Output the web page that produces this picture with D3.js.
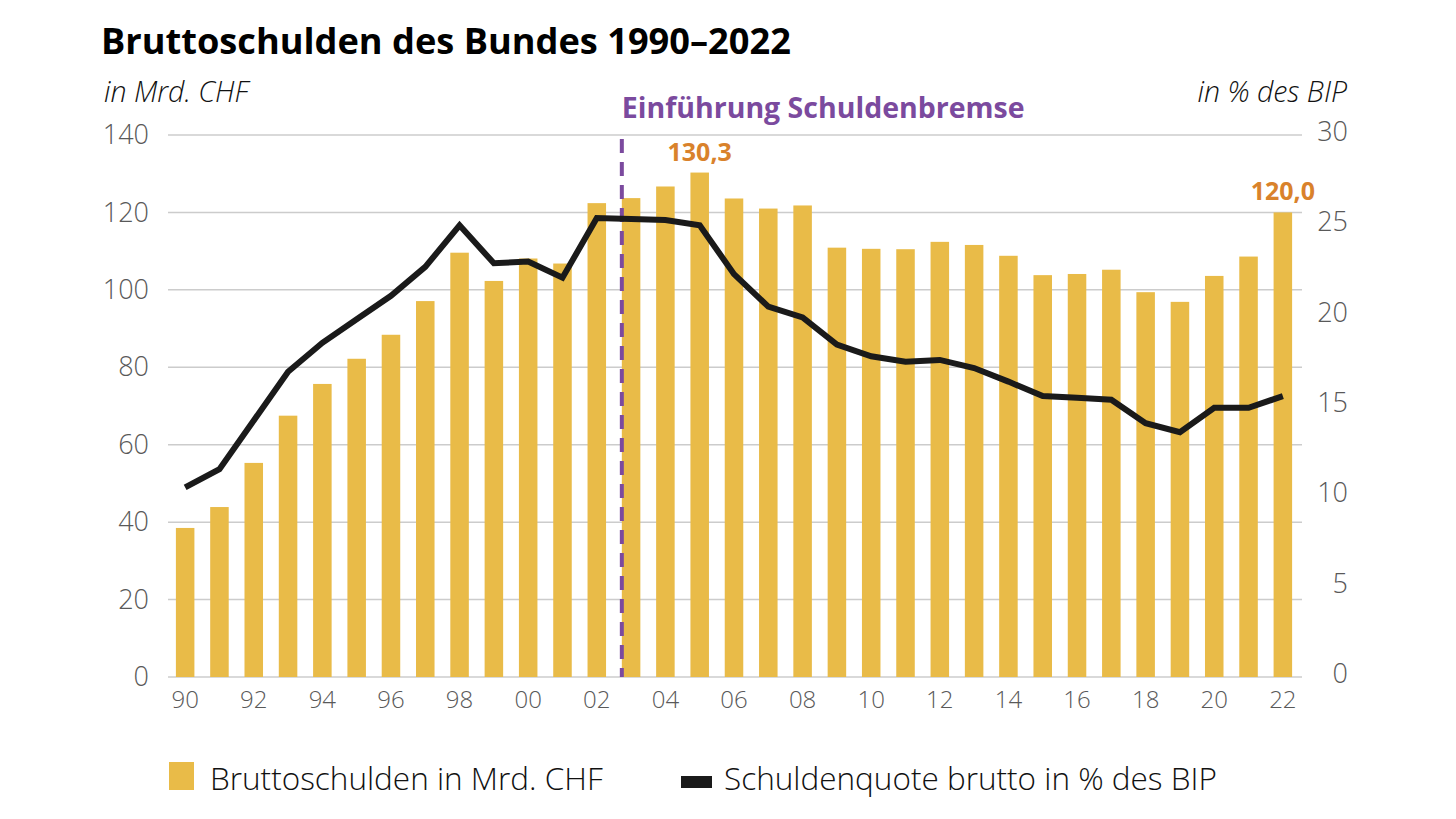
<!DOCTYPE html>
<meta charset="utf-8">
<style>
  body { margin: 0; background: #fff; }
  text { font-family: "Open Sans", "Noto Sans", sans-serif; }
</style>
<body>
<script src="https://cdn.jsdelivr.net/npm/d3@7"></script>
<script>

// data: years 1990-2022
var years = d3.range(1990, 2023);
var debt = [38.5, 43.9, 55.3, 67.5, 75.7, 82.2, 88.4, 97.1, 109.6, 102.3,
            108.1, 106.8, 122.4, 123.7, 126.7, 130.3, 123.6, 121.0, 121.8, 110.9,
            110.6, 110.5, 112.4, 111.6, 108.8, 103.8, 104.1, 105.2, 99.4, 96.9,
            103.6, 108.6, 120.0];
var ratio = [10.5, 11.5, 14.2, 16.9, 18.5, 19.8, 21.1, 22.7, 25.0, 22.9,
             23.0, 22.1, 25.4, 25.35, 25.3, 25.0, 22.3, 20.5, 19.9, 18.4,
             17.75, 17.45, 17.55, 17.1, 16.35, 15.55, 15.45, 15.35, 14.05, 13.55,
             14.9, 14.9, 15.55];
var leftTicks = [0, 20, 40, 60, 80, 100, 120, 140];
var rightTicks = [0, 5, 10, 15, 20, 25, 30];
var labelled = [2005, 2022];

var width = 1456, height = 819;
var margin = { top: 135, right: 156, bottom: 142, left: 168 };

var svg = d3.select("body").append("svg")
    .attr("width", width)
    .attr("height", height);

var x = d3.scaleBand()
    .domain(years)
    .range([margin.left, width - margin.right])
    .paddingInner(0.46)
    .paddingOuter(0.23);

var y = d3.scaleLinear().domain([0, 140]).range([height - margin.bottom, margin.top]);
var y2 = d3.scaleLinear().domain([0, 30]).range([height - margin.bottom, margin.top]);

var grey = "#595959";

// gridlines
svg.append("g")
    .selectAll("line")
    .data(leftTicks)
  .enter().append("line")
    .attr("x1", margin.left)
    .attr("x2", width - margin.right + 2)
    .attr("y1", function (d) { return y(d); })
    .attr("y2", function (d) { return y(d); })
    .style("stroke", "#cccccc")
    .style("stroke-width", 1.5);

// left axis
var yAxis = svg.append("g")
    .attr("transform", "translate(" + (margin.left - 19) + ",0)")
    .call(d3.axisLeft(y).tickValues(leftTicks).tickSize(0).tickPadding(0));
yAxis.select(".domain").remove();
yAxis.selectAll("text")
    .style("font-size", "27px")
    .style("font-weight", 300)
    .style("font-family", "'Open Sans', sans-serif")
    .attr("fill", grey);

// right axis
var y2Axis = svg.append("g")
    .attr("transform", "translate(" + (width - 108) + ",0)")
    .call(d3.axisLeft(y2).tickValues(rightTicks).tickSize(0).tickPadding(0));
y2Axis.select(".domain").remove();
y2Axis.selectAll("text")
    .attr("dy", "0.2em")
    .style("font-size", "27px")
    .style("font-weight", 300)
    .style("font-family", "'Open Sans', sans-serif")
    .attr("fill", grey);

// x axis
var xAxis = svg.append("g")
    .attr("transform", "translate(0," + (height - margin.bottom) + ")")
    .call(d3.axisBottom(x)
        .tickValues(years.filter(function (d) { return d % 2 === 0; }))
        .tickFormat(function (d) { return String(d).slice(2); })
        .tickSize(0).tickPadding(14));
xAxis.select(".domain").remove();
xAxis.selectAll("text")
    .style("font-size", "24px")
    .style("font-weight", 300)
    .style("font-family", "'Open Sans', sans-serif")
    .attr("fill", grey);

// bars
svg.append("g")
    .selectAll("rect")
    .data(years)
  .enter().append("rect")
    .attr("x", function (d) { return x(d); })
    .attr("width", x.bandwidth())
    .attr("y", function (d, i) { return y(debt[i]); })
    .attr("height", function (d, i) { return y(0) - y(debt[i]); })
    .style("fill", "#e9bb48");

// value labels
svg.append("g")
    .selectAll("text")
    .data(labelled)
  .enter().append("text")
    .attr("x", function (d) { return x(d) + x.bandwidth() / 2; })
    .attr("y", function (d) { return y(debt[years.indexOf(d)]) - 12; })
    .attr("text-anchor", "middle")
    .style("font-size", "25px")
    .style("font-weight", 700)
    .attr("fill", "#d9822b")
    .text(function (d) { return String(debt[years.indexOf(d)].toFixed(1)).replace(".", ","); });

// dashed marker: Schuldenbremse (2003)
var xb = x(2003);
svg.append("line")
    .attr("x1", xb).attr("x2", xb)
    .attr("y1", margin.top + 4)
    .attr("y2", y(0))
    .style("stroke", "#7b4a9e")
    .style("stroke-width", 4)
    .style("stroke-dasharray", "14,9");

svg.append("text")
    .attr("x", xb)
    .attr("y", 118)
    .style("font-size", "28.5px")
    .style("font-weight", 700)
    .attr("fill", "#7b4a9e")
    .text("Einführung Schuldenbremse");

// ratio line
var line = d3.line()
    .x(function (d, i) { return x(years[i]) + x.bandwidth() / 2; })
    .y(function (d) { return y2(d); });

svg.append("path")
    .datum(ratio)
    .attr("d", line)
    .style("fill", "none")
    .style("stroke", "#1a1a1a")
    .style("stroke-width", 6)
    .style("stroke-linejoin", "miter");

// title and axis units
svg.append("text")
    .attr("x", 101)
    .attr("y", 54)
    .style("font-size", "36.2px")
    .style("font-weight", 700)
    .attr("fill", "#000")
    .text("Bruttoschulden des Bundes 1990–2022");

svg.append("text")
    .attr("x", 104)
    .attr("y", 102)
    .style("font-size", "28.5px")
    .style("font-style", "italic")
    .style("font-weight", 300)
    .attr("fill", "#111")
    .text("in Mrd. CHF");

svg.append("text")
    .attr("x", width - 109)
    .attr("y", 102)
    .attr("text-anchor", "end")
    .style("font-size", "28.5px")
    .style("font-style", "italic")
    .style("font-weight", 300)
    .attr("fill", "#111")
    .text("in % des BIP");

// legend
var legend = svg.append("g");
legend.append("rect")
    .attr("x", 169).attr("y", 762)
    .attr("width", 25).attr("height", 28)
    .style("fill", "#e9bb48");
legend.append("text")
    .attr("x", 210).attr("y", 790)
    .style("font-size", "31.5px")
    .style("font-weight", 300)
    .attr("fill", "#111")
    .text("Bruttoschulden in Mrd. CHF");
legend.append("rect")
    .attr("x", 681).attr("y", 776)
    .attr("width", 31).attr("height", 12)
    .style("fill", "#1a1a1a");
legend.append("text")
    .attr("x", 724).attr("y", 790)
    .style("font-size", "31.5px")
    .style("font-weight", 300)
    .attr("fill", "#111")
    .text("Schuldenquote brutto in % des BIP");

</script>
</body>
